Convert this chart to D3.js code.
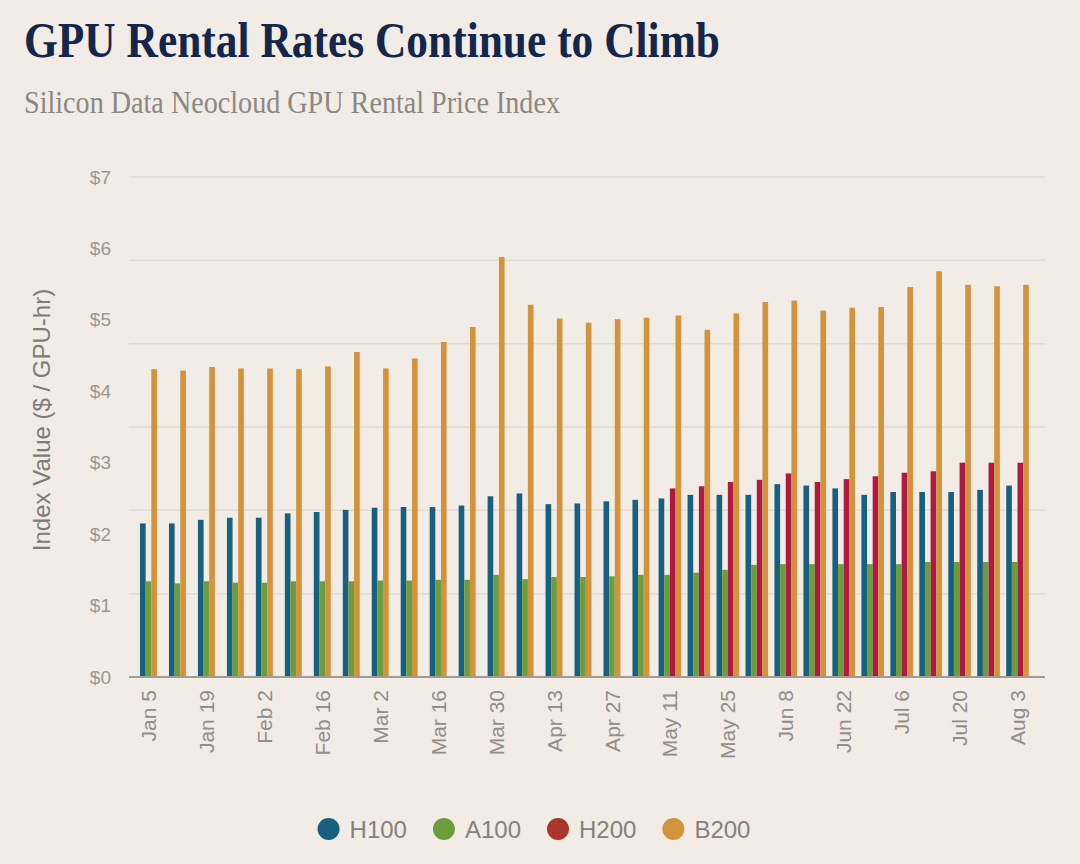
<!DOCTYPE html>
<html>
<head>
<meta charset="utf-8">
<script src="https://cdn.jsdelivr.net/npm/d3@7"></script>
<style>
  html, body { margin: 0; padding: 0; background: #f1ece5; }
  #chart { width: 1080px; height: 864px; }
</style>
</head>
<body>
<div id="chart"></div>
<script>
// weekly index dates (every week), only every other one gets a label
const weeks = ['Jan 5', 'Jan 12', 'Jan 19', 'Jan 26', 'Feb 2', 'Feb 9', 'Feb 16', 'Feb 23',
  'Mar 2', 'Mar 9', 'Mar 16', 'Mar 23', 'Mar 30', 'Apr 6', 'Apr 13', 'Apr 20', 'Apr 27',
  'May 4', 'May 11', 'May 18', 'May 25', 'Jun 1', 'Jun 8', 'Jun 15', 'Jun 22', 'Jun 29',
  'Jul 6', 'Jul 13', 'Jul 20', 'Jul 27', 'Aug 3'];
const tickLabels = ['Jan 5', 'Jan 19', 'Feb 2', 'Feb 16', 'Mar 2', 'Mar 16', 'Mar 30', 'Apr 13',
  'Apr 27', 'May 11', 'May 25', 'Jun 8', 'Jun 22', 'Jul 6', 'Jul 20', 'Aug 3'];

const h100 = [2.15, 2.15, 2.20, 2.23, 2.23, 2.29, 2.31, 2.34, 2.37, 2.38, 2.38, 2.40, 2.53, 2.57, 2.42,
  2.43, 2.46, 2.48, 2.50, 2.55, 2.55, 2.55, 2.70, 2.68, 2.64, 2.55, 2.59, 2.59, 2.59, 2.62, 2.68];
const a100 = [1.34, 1.31, 1.34, 1.32, 1.32, 1.34, 1.34, 1.34, 1.35, 1.35, 1.36, 1.36, 1.43, 1.37, 1.40,
  1.40, 1.41, 1.43, 1.43, 1.46, 1.50, 1.57, 1.58, 1.58, 1.58, 1.58, 1.58, 1.61, 1.61, 1.61, 1.61];
const h200 = [null, null, null, null, null, null, null, null, null, null, null, null, null, null, null,
  null, null, null, 2.64, 2.67, 2.73, 2.76, 2.85, 2.73, 2.77, 2.81, 2.86, 2.88, 3.00, 3.00, 3.00];
const b200 = [4.31, 4.29, 4.34, 4.32, 4.32, 4.31, 4.35, 4.55, 4.32, 4.46, 4.69, 4.90, 5.88, 5.21, 5.02,
  4.96, 5.01, 5.03, 5.06, 4.86, 5.09, 5.25, 5.27, 5.13, 5.17, 5.18, 5.46, 5.68, 5.49, 5.47, 5.49];

const seriesNames = ['H100', 'A100', 'H200', 'B200'];
const seriesValues = [h100, a100, h200, b200];
const barColors = ['#17607f', '#6c9d3c', '#ae1a42', '#d3933d'];
const legendColors = ['#17607f', '#6c9d3c', '#a8362f', '#d3933d'];
const yTicks = [0, 1, 2, 3, 4, 5, 6, 7];

const svg = d3.select('#chart')
  .append('svg')
  .attr('width', 1080)
  .attr('height', 864);

// plot frame
const plotLeft = 129, plotRight = 1045;

const x = d3.scaleBand()
  .domain(weeks)
  .range([134, 1032])
  .padding(0);

const y = d3.scaleLinear()
  .domain([0, 7])
  .range([677, 177]);

// Gridlines (the original splits the $0-$7 span into six bands)
const gridValues = d3.range(0, 7).map(i => i * 7 / 6);
svg.append('g')
  .attr('class', 'grid')
  .selectAll('line')
  .data(gridValues.slice(1))
  .enter()
  .append('line')
  .attr('x1', plotLeft)
  .attr('x2', plotRight)
  .attr('y1', d => y(d))
  .attr('y2', d => y(d))
  .attr('stroke', '#e3dccf')
  .attr('stroke-width', 1.5);

// Bars
const barWidth = 5.65;
weeks.forEach((wk, i) => {
  const present = seriesValues
    .map((vals, s) => ({ s, v: vals[i] }))
    .filter(d => d.v !== null);
  const start = x(wk) + x.bandwidth() / 2 - present.length * barWidth / 2;

  svg.append('g')
    .selectAll('rect')
    .data(present)
    .enter()
    .append('rect')
    .attr('x', (d, j) => start + j * barWidth)
    .attr('y', d => y(d.v))
    .attr('width', barWidth)
    .attr('height', d => y(0) - y(d.v))
    .attr('fill', d => barColors[d.s]);
});

// Baseline
svg.append('line')
  .attr('x1', plotLeft)
  .attr('x2', plotRight)
  .attr('y1', y(0))
  .attr('y2', y(0))
  .attr('stroke', '#a49c93')
  .attr('stroke-width', 2);

// Y axis labels
const yAxis = d3.axisLeft(y)
  .tickValues(yTicks)
  .tickSize(0)
  .tickPadding(0)
  .tickFormat(d => `$${d}`);

const yAxisG = svg.append('g')
  .attr('transform', 'translate(111, 0)')
  .call(yAxis);
yAxisG.select('.domain').remove();
yAxisG.selectAll('text')
  .attr('font-family', 'Liberation Sans, Arial, sans-serif')
  .attr('font-size', '19px')
  .attr('fill', '#9b9792');

// X axis labels
const xAxis = d3.axisBottom(x)
  .tickValues(tickLabels)
  .tickSize(0)
  .tickPadding(0);

const xAxisG = svg.append('g')
  .attr('transform', `translate(0, ${y(0)})`)
  .call(xAxis);
xAxisG.select('.domain').remove();
xAxisG.selectAll('text')
  .attr('font-family', 'Liberation Sans, Arial, sans-serif')
  .attr('font-size', '21px')
  .attr('fill', '#928e89')
  .attr('text-anchor', 'end')
  .attr('transform', 'translate(0, 13) rotate(-90)')
  .attr('x', 0)
  .attr('y', 0)
  .attr('dy', '0.36em');

// Y axis title
svg.append('text')
  .attr('transform', 'translate(50, 420) rotate(-90)')
  .attr('text-anchor', 'middle')
  .attr('font-family', 'Liberation Sans, Arial, sans-serif')
  .attr('font-size', '24px')
  .attr('fill', '#7f7b77')
  .text('Index Value ($ / GPU-hr)');

// Title and subtitle
svg.append('text')
  .attr('x', 24)
  .attr('y', 57)
  .attr('font-family', 'Liberation Serif, Times New Roman, serif')
  .attr('font-weight', 'bold')
  .attr('font-size', '50px')
  .attr('fill', '#14264b')
  .attr('textLength', 696)
  .attr('lengthAdjust', 'spacingAndGlyphs')
  .text('GPU Rental Rates Continue to Climb');

svg.append('text')
  .attr('x', 24)
  .attr('y', 113)
  .attr('font-family', 'Liberation Serif, Times New Roman, serif')
  .attr('font-size', '31px')
  .attr('fill', '#8b8782')
  .attr('textLength', 536)
  .attr('lengthAdjust', 'spacingAndGlyphs')
  .text('Silicon Data Neocloud GPU Rental Price Index');

// Legend
const legend = svg.append('g').attr('class', 'legend');
const items = legend.selectAll('g')
  .data(seriesNames)
  .enter()
  .append('g');

items.append('circle')
  .attr('r', 11)
  .attr('cx', 11)
  .attr('cy', 0)
  .attr('fill', (d, i) => legendColors[i]);

items.append('text')
  .attr('x', 32)
  .attr('y', 0)
  .attr('dy', '0.36em')
  .attr('font-family', 'Liberation Sans, Arial, sans-serif')
  .attr('font-size', '24px')
  .attr('fill', '#85817d')
  .text(d => d);

let offset = 0;
const widths = [];
items.each(function () {
  const w = 32 + d3.select(this).select('text').node().getComputedTextLength();
  widths.push(w);
});
const gap = 26;
const total = d3.sum(widths) + gap * (widths.length - 1);
const legendStart = 534 - total / 2;
items.attr('transform', (d, i) => {
  const tx = legendStart + offset;
  offset += widths[i] + gap;
  return `translate(${tx}, 829)`;
});
</script>
</body>
</html>
